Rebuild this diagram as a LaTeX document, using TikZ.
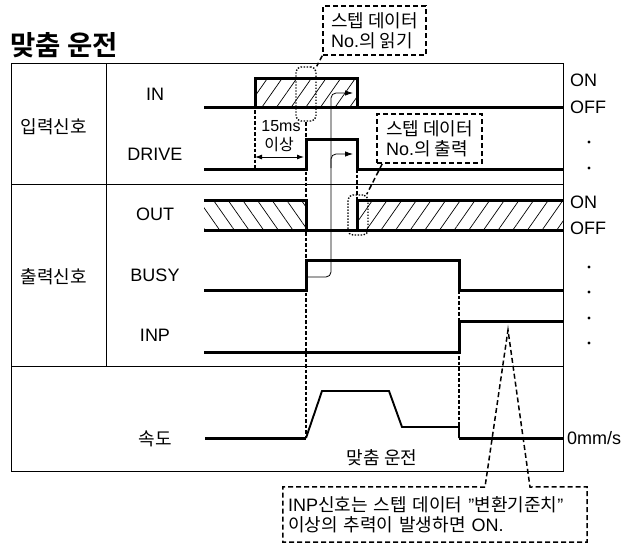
\documentclass[tikz,border=0pt]{standalone}
\usepackage{fontspec}
\setmainfont{Liberation Sans}
\newfontfamily\kr[BoldFont={Noto Sans CJK KR Bold}]{Noto Sans CJK KR}
\usetikzlibrary{patterns.meta,arrows.meta,calc}
\begin{document}
\begin{tikzpicture}[x=1pt,y=-1pt,
  frame/.style={line width=0.9pt},
  sig/.style={line width=3pt},
  ramp/.style={line width=1.9pt, line join=miter},
  guide/.style={line width=1.1pt, dash pattern=on 3.5pt off 2pt},
  callout/.style={line width=1.5pt, dash pattern=on 5pt off 3pt},
  dotbox/.style={draw, line width=1.4pt, dash pattern=on 1.4pt off 1.6pt, rounded corners=5pt, inner sep=0pt},
  lbl/.style={font=\fontsize{18}{20}\selectfont, inner sep=0pt},
  klbl/.style={font=\kr\fontsize{18}{20}\selectfont, inner sep=0pt},
  hatchR/.style={pattern={Lines[angle=55,distance=12pt,line width=0.7pt]}},
  hatchL/.style={pattern={Lines[angle=-55,distance=12pt,line width=0.7pt]}},
  cause/.style={line width=0.8pt, rounded corners=5pt},
  tip/.style={-{Latex[length=8pt,width=5.5pt]}},
  dotmark/.style={fill=black, circle, inner sep=0pt, minimum size=3.4pt}
]
\useasboundingbox (0,0) rectangle (643,544);

% title
\node[font=\kr\bfseries\fontsize{27.5}{30}\selectfont, anchor=west, inner sep=0pt] (title) at (10,45) {맞춤 운전};

% frame
\draw[frame] (11,63) rectangle (563,471);
\draw[frame] (11,184) -- (563,184);
\draw[frame] (11,366) -- (563,366);
\draw[frame] (106,63) -- (106,366);

% row labels
\node[klbl] (gin) at (54,127) {입력신호};
\node[klbl] (gout) at (54,277) {출력신호};
\node[lbl] (lin) at (155,94) {IN};
\node[lbl] (ldrive) at (155,154) {DRIVE};
\node[lbl] (lout) at (155,214) {OUT};
\node[lbl] (lbusy) at (155,275) {BUSY};
\node[lbl] (linp) at (155,335) {INP};
\node[klbl] (lspd) at (155,439) {속도};

% guides
\draw[guide] (255,110) -- (255,169);
\draw[guide] (306,122) -- (306,438);
\draw[guide] (357,169) -- (357,200);
\draw[guide] (459,290) -- (459,427);

% hatching
\fill[hatchR] (255,78) rectangle (357,107);
\fill[hatchL] (204,200) rectangle (306,230);
\fill[hatchR] (357,200) rectangle (563,230);

% IN
\draw[sig] (204,107) -- (563,107);
\draw[sig] (255,107) -- (255,78) -- (357,78) -- (357,107);
% DRIVE
\draw[sig] (204,169) -- (306,169) -- (306,139) -- (357,139) -- (357,169) -- (563,169);
% OUT
\draw[sig] (204,200) -- (306,200) -- (306,230);
\draw[sig] (204,230) -- (563,230);
\draw[sig] (357,230) -- (357,200) -- (563,200);
% BUSY
\draw[sig] (204,290) -- (306,290) -- (306,260) -- (459,260) -- (459,290) -- (563,290);
% INP
\draw[sig] (204,352) -- (459,352) -- (459,321) -- (563,321);
% speed
\draw[sig] (205,438) -- (306,438);
\draw[ramp] (306,438) -- (322,391) -- (389,391) -- (402,427) -- (459,427) -- (459,438);
\draw[sig] (459,438) -- (563,438);
\node[klbl] (lmode) at (382,458) {맞춤 운전};

% causal arrows
\draw[cause, tip] (306,277) -- (331,277) -- (331,93) -- (353,93);
\draw[cause, tip] (331,168) -- (331,154) -- (353,154);

% 15ms
\draw[line width=0.9pt, {Latex[length=7pt,width=5pt]}-{Latex[length=7pt,width=5pt]}] (255,157) -- (304,157);
\node[font=\fontsize{16}{17}\selectfont, inner sep=0pt] (t15) at (281,126) {15ms};
\node[font=\kr\fontsize{16}{17}\selectfont, inner sep=0pt] (tabove) at (279,145) {이상};

% right side labels
\node[lbl, anchor=west] (on1) at (570,80) {ON};
\node[lbl, anchor=west] (off1) at (570,107) {OFF};
\node[lbl, anchor=west] (on2) at (570,202) {ON};
\node[lbl, anchor=west] (off2) at (570,228) {OFF};
\node[lbl, anchor=west] (zero) at (567,438) {0mm/s};
\foreach \yy/\nm in {142/d1,168/d2,267/d3,292/d4,318/d5,343/d6}
  \node[dotmark] (\nm) at (589,\yy) {};

% dotted rounded boxes
\node[dotbox, minimum width=20pt, minimum height=54pt] (rr1) at (306,94) {};
\node[dotbox, minimum width=20pt, minimum height=40pt] (rr2) at (358,215) {};

% callout 1
\node[draw, callout, minimum width=103pt, minimum height=49pt, inner sep=0pt, align=left,
      font=\fontsize{18}{20}\selectfont] (c1) at (374.5,30.5) {{\kr 스텝 데이터}\\No.{\kr 의 읽기}};
\draw[callout] (c1.south west) -- (rr1.north east);
% callout 2
\node[draw, callout, minimum width=105pt, minimum height=49pt, inner sep=0pt, align=left,
      font=\fontsize{18}{20}\selectfont] (c2) at (429.5,138.5) {{\kr 스텝 데이터}\\No.{\kr 의 출력}};
\draw[callout] ([xshift=6pt]c2.south west) -- ([xshift=-2pt]rr2.north east);

% callout 3
\node[minimum width=304pt, minimum height=55pt, inner sep=0pt, text width=294pt, align=left,
      font=\fontsize{18}{20}\selectfont] (c3) at (435,514.5)
  {INP{\kr 신호는 스텝 데이터 }"{\kr 변환기준치}"\\{\kr 이상의 추력이 발생하면 }ON.};
\coordinate (apex) at (508,330);
\coordinate (wl) at (485,487);
\coordinate (wr) at (530,487);
\draw[callout] (wl) -- (c3.north west) -- (c3.south west) -- (c3.south east) -- (c3.north east) -- (wr) -- (apex) -- cycle;
\end{tikzpicture}
\end{document}
